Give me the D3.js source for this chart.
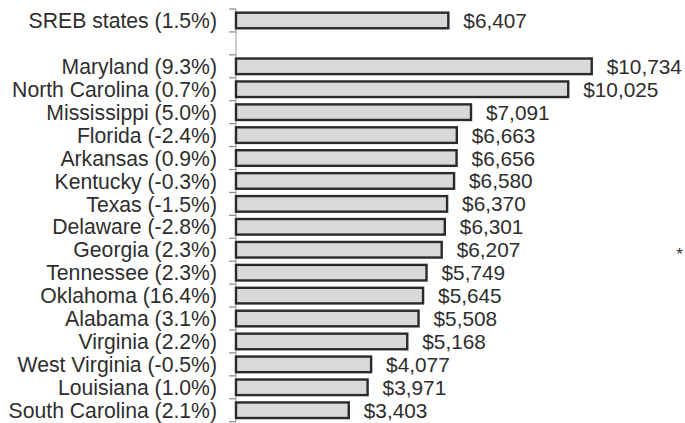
<!DOCTYPE html>
<html>
<head>
<meta charset="utf-8">
<script src="https://cdn.jsdelivr.net/npm/d3@7"></script>
<style>
  html, body { margin: 0; padding: 0; background: #fff; }
  svg { display: block; }
  text { font-family: "Liberation Sans", Arial, sans-serif; fill: #2e2e2e; }
</style>
</head>
<body>
<svg id="chart" width="685" height="423"></svg>
<script>
// Data
const categories = [
  "SREB states (1.5%)", "",
  "Maryland (9.3%)", "North Carolina (0.7%)", "Mississippi (5.0%)", "Florida (-2.4%)",
  "Arkansas (0.9%)", "Kentucky (-0.3%)", "Texas (-1.5%)", "Delaware (-2.8%)",
  "Georgia (2.3%)", "Tennessee (2.3%)", "Oklahoma (16.4%)", "Alabama (3.1%)",
  "Virginia (2.2%)", "West Virginia (-0.5%)", "Louisiana (1.0%)", "South Carolina (2.1%)"
];
const values = [
  6407, null,
  10734, 10025, 7091, 6663, 6656, 6580, 6370, 6301,
  6207, 5749, 5645, 5508, 5168, 4077, 3971, 3403
];
const valueLabels = [
  "$6,407", "",
  "$10,734", "$10,025", "$7,091", "$6,663", "$6,656", "$6,580", "$6,370", "$6,301",
  "$6,207", "$5,749", "$5,645", "$5,508", "$5,168", "$4,077", "$3,971", "$3,403"
];
const footnote = "*";
const footnoteIndex = 10; // Georgia row

const keys = categories.map((c, i) => i);
const svg = d3.select("#chart");

const x0 = 236;
const pxPerDollar = 0.03314;
const x = d3.scaleLinear().domain([0, 10734]).range([x0, x0 + 10734 * pxPerDollar]);
const y = d3.scaleBand().domain(keys).range([9, 421.7]).paddingInner(0.32).paddingOuter(0.16);
const step = y.step();

// axis line
svg.append("line")
  .attr("x1", x0).attr("x2", x0)
  .attr("y1", y.range()[0]).attr("y2", y.range()[1])
  .attr("stroke", "#a8a8a8").attr("stroke-width", 1.2);

// ticks at band boundaries
const bounds = d3.range(keys.length + 1).map(i => y.range()[0] + i * step);
svg.selectAll("line.tick").data(bounds).join("line")
  .attr("class", "tick")
  .attr("x1", x0 - 7).attr("x2", x0)
  .attr("y1", d => d).attr("y2", d => d)
  .attr("stroke", "#8a8a8a").attr("stroke-width", 1.2);

// category labels
svg.selectAll("text.cat").data(keys.filter(i => categories[i] !== "")).join("text")
  .attr("class", "cat")
  .attr("x", x0 - 19)
  .attr("y", i => y(i) + y.bandwidth() / 2)
  .attr("dy", "0.36em")
  .attr("text-anchor", "end")
  .style("font-size", "21.2px")
  .text(i => categories[i]);

// bars
const barKeys = keys.filter(i => values[i] != null);
svg.selectAll("rect.bar").data(barKeys).join("rect")
  .attr("class", "bar")
  .attr("x", x(0))
  .attr("y", i => y(i))
  .attr("width", i => x(values[i]) - x(0))
  .attr("height", y.bandwidth())
  .attr("fill", "#d9d9d9")
  .attr("stroke", "#2a2a2a")
  .attr("stroke-width", 2.4);

// value labels
svg.selectAll("text.val").data(barKeys).join("text")
  .attr("class", "val")
  .attr("x", i => x(values[i]) + 15)
  .attr("y", i => y(i) + y.bandwidth() / 2)
  .attr("dy", "0.36em")
  .style("font-size", "20.8px")
  .text(i => valueLabels[i]);

// footnote asterisk
svg.append("text")
  .attr("x", 679.5)
  .attr("y", y(footnoteIndex) + y.bandwidth() / 2)
  .attr("dy", "0.62em")
  .attr("text-anchor", "middle")
  .style("font-size", "17px")
  .style("fill", "#333")
  .text(footnote);
</script>
</body>
</html>
